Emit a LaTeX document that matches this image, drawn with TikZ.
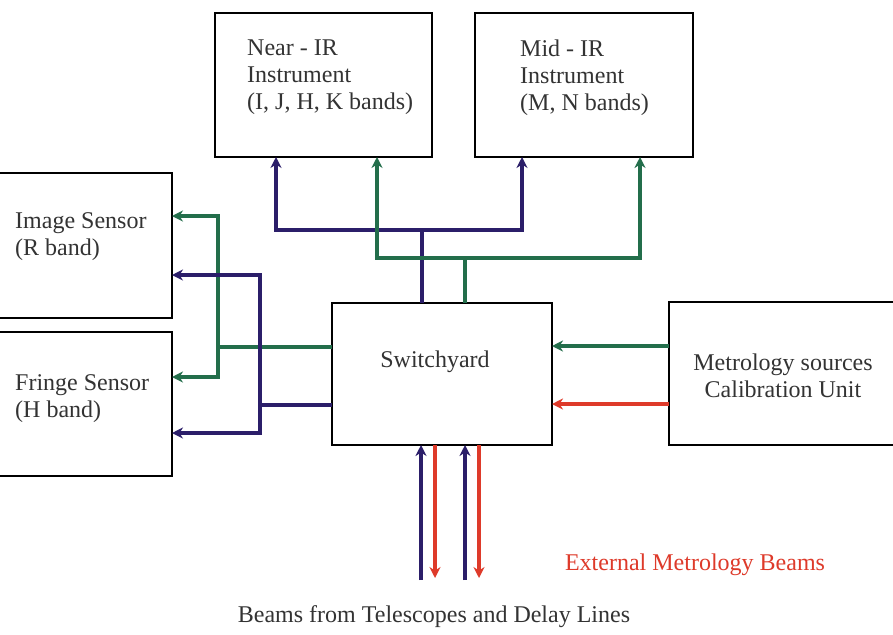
\documentclass[tikz,border=0pt]{standalone}
\usepackage{fontspec}
\setmainfont{Liberation Serif}
\usetikzlibrary{arrows.meta}

\definecolor{navyln}{RGB}{43,30,105}
\definecolor{greenln}{RGB}{35,110,75}
\definecolor{redln}{RGB}{222,58,42}

\begin{document}
\begin{tikzpicture}[x=1pt,y=-1pt,
        box/.style={draw, line width=2.8pt, inner sep=0pt, outer sep=0pt},
        lbl/.style={inner sep=0pt, align=left, font=\fontsize{24}{27}\selectfont, text=black!80},
        wire/.style={line width=4pt},
        tip/.style={-{Stealth[length=11pt,width=11pt]}}]

                % page
                    \fill[white] (0,0) rectangle (893,634);
                    \useasboundingbox (0,0) rectangle (893,634);

                % instruments on top
                    \node[box, minimum width=217pt, minimum height=144pt] (nir) at (323.5,85) {};
                    \node[box, minimum width=218pt, minimum height=144pt] (mir) at (584,85) {};
                    \node[lbl, anchor=north west] (nirtxt) at (247,40) {Near - IR\\Instrument\\(I, J, H, K bands)};
                    \node[lbl, anchor=north west] (mirtxt) at (520,40) {Mid - IR\\Instrument\\(M, N bands)};

                % sensors on the left
                    \node[box, minimum width=177pt, minimum height=145pt] (img) at (83.5,245.5) {};
                    \node[box, minimum width=177pt, minimum height=144pt] (fri) at (83.5,404) {};
                    \node[lbl, anchor=north west] (imgtxt) at (15,212) {Image Sensor\\(R band)};
                    \node[lbl, anchor=north west] (fritxt) at (15,374) {Fringe Sensor\\(H band)};

                % switchyard and metrology
                    \node[box, minimum width=220pt, minimum height=142pt] (sw) at (442,374) {};
                    \node[lbl] (swtxt) at (435,362) {Switchyard};
                    \node[box, minimum width=231pt, minimum height=143pt] (met) at (784.5,373.5) {};
                    \node[lbl, align=center] (mettxt) at (783,376) {Metrology sources\\Calibration Unit};

                % switchyard -> instruments
                    \coordinate (bj) at (422,230);
                    \coordinate (gj) at (465,258);
                    \draw[wire, navyln] ([xshift=-20pt]sw.north) -- (bj);
                    \draw[wire, navyln, tip] (bj) -| ([xshift=-47.5pt]nir.south);
                    \draw[wire, navyln, tip] (bj) -| ([xshift=-62pt]mir.south);
                    \draw[wire, greenln] ([xshift=23pt]sw.north) -- (gj);
                    \draw[wire, greenln, tip] (gj) -| ([xshift=53.5pt]nir.south);
                    \draw[wire, greenln, tip] (gj) -| ([xshift=56pt]mir.south);

                % switchyard -> sensors
                    \coordinate (gl) at (218,347);
                    \coordinate (bl) at (260,405);
                    \draw[wire, greenln] (sw.west |- gl) -- (gl);
                    \draw[wire, greenln, tip] (gl) |- ([yshift=29.5pt]img.east);
                    \draw[wire, greenln, tip] (gl) |- ([yshift=27pt]fri.east);
                    \draw[wire, navyln] (sw.west |- bl) -- (bl);
                    \draw[wire, navyln, tip] (bl) |- ([yshift=-29.5pt]img.east);
                    \draw[wire, navyln, tip] (bl) |- ([yshift=-29pt]fri.east);

                % metrology -> switchyard
                    \coordinate (mg) at ([yshift=27.5pt]met.west);
                    \coordinate (mr) at ([yshift=-30.5pt]met.west);
                    \draw[wire, greenln, tip] (mg) -- (sw.east |- mg);
                    \draw[wire, redln, tip] (mr) -- (sw.east |- mr);

                % beams below
                    \coordinate (b1) at (421,580);
                    \coordinate (r1) at (435,578);
                    \coordinate (b2) at (465,580);
                    \coordinate (r2) at (479,578);
                    \draw[wire, navyln, tip] (b1) -- (b1 |- sw.south);
                    \draw[wire, redln, tip] (r1 |- sw.south) -- (r1);
                    \draw[wire, navyln, tip] (b2) -- (b2 |- sw.south);
                    \draw[wire, redln, tip] (r2 |- sw.south) -- (r2);

                    \node[lbl, text=redln] (exttxt) at (695,565) {External Metrology Beams};
                    \node[lbl] (beamtxt) at (434,617) {Beams from Telescopes and Delay Lines};

\end{tikzpicture}
\end{document}
